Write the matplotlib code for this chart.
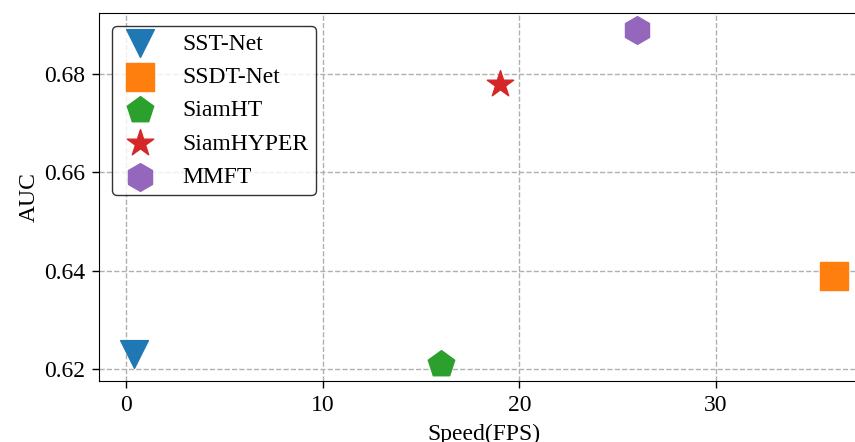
import matplotlib
matplotlib.use("Agg")
import matplotlib.pyplot as plt

plt.rcParams["font.family"] = ["Liberation Serif", "DejaVu Serif"]
plt.rcParams["mathtext.fontset"] = "stix"

trackers = ["SST-Net", "SSDT-Net", "SiamHT", "SiamHYPER", "MMFT"]
speed_fps = [0.4, 36.0, 16.0, 19.0, 26.0]
auc = [0.623, 0.639, 0.621, 0.678, 0.689]
markers = ["v", "s", "p", "*", "h"]
colors = ["#1f77b4", "#ff7f0e", "#2ca02c", "#d62728", "#9467bd"]

fig = plt.figure(figsize=(8.55, 4.42), dpi=100)
ax = fig.add_axes([99 / 855, 61 / 442, (869 - 99) / 855, (381 - 13) / 442])

for name, x, y, m, c in zip(trackers, speed_fps, auc, markers, colors):
    ax.scatter(x, y, s=400, marker=m, color=c, label=name, zorder=3)

ax.grid(True, linestyle="--", color="#b0b0b0", linewidth=1.0)
ax.set_axisbelow(True)
ax.set_xticks([0, 10, 20, 30])
ax.set_yticks([0.62, 0.64, 0.66, 0.68])
ax.tick_params(labelsize=17, length=5, width=1, pad=5)
ax.set_xlabel("Speed(FPS)", fontsize=17, labelpad=6)
ax.set_ylabel("AUC", fontsize=17, labelpad=3)

leg = ax.legend(loc="upper left", fontsize=17, frameon=True, edgecolor="black",
                framealpha=0.8, borderpad=0.3, labelspacing=0.5,
                handlelength=1.8, handletextpad=0.9,
                bbox_to_anchor=(0.0, 1.0), borderaxespad=0.55)

fig.savefig("out.png", dpi=100)
